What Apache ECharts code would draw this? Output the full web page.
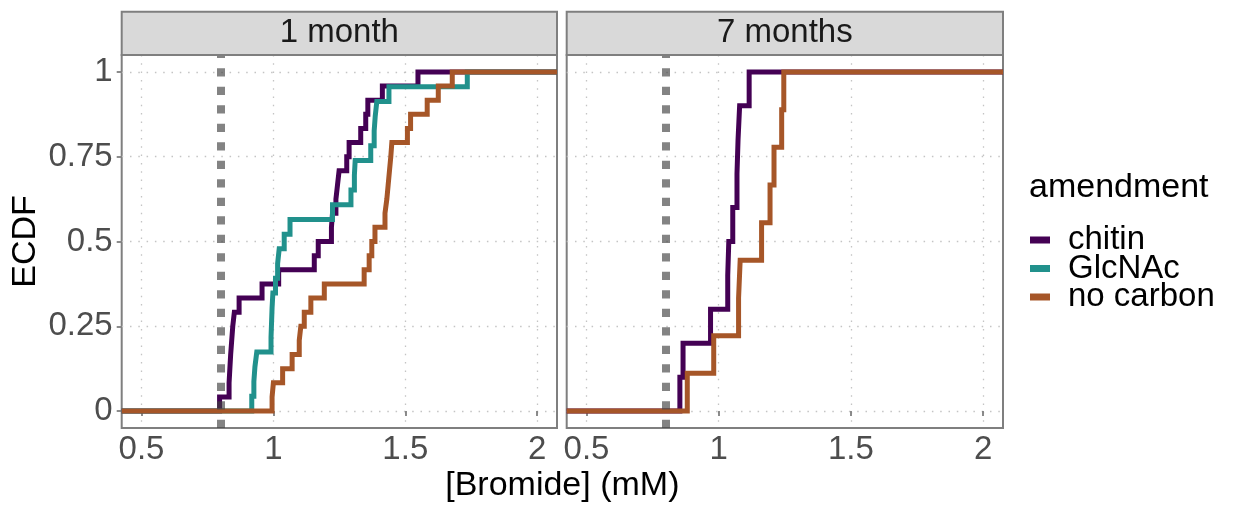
<!DOCTYPE html>
<html>
<head>
<meta charset="utf-8">
<script src="https://cdn.jsdelivr.net/npm/echarts@6/dist/echarts.min.js"></script>
<style>
  html, body { margin: 0; padding: 0; background: #ffffff; }
  #chart { width: 1233px; height: 506px; }
</style>
</head>
<body>
<div id="chart"></div>
<script>
// Sorted bromide concentrations (mM), one value per sample
const chitin1Month = [0.796, 0.832, 0.835, 0.838, 0.842, 0.846, 0.852, 0.870, 0.957, 1.020,
  1.155, 1.170, 1.220, 1.224, 1.237, 1.243, 1.249, 1.278, 1.287, 1.331, 1.350, 1.358, 1.413, 1.548];
const glcnac1Month = [0.918, 0.926, 0.930, 0.937, 0.991, 0.993, 0.995, 0.998, 1.008, 1.016,
  1.022, 1.041, 1.063, 1.224, 1.294, 1.307, 1.310, 1.369, 1.382, 1.386, 1.392, 1.438, 1.735];
const noCarbon1Month = [0.995, 1.000, 1.035, 1.071, 1.098, 1.104, 1.117, 1.142, 1.193, 1.344,
  1.363, 1.373, 1.385, 1.423, 1.430, 1.435, 1.440, 1.445, 1.449, 1.508, 1.520, 1.583, 1.625, 1.678];
const chitin7Months = [0.853, 0.865, 0.969, 1.034, 1.038, 1.053, 1.069, 1.073, 1.079, 1.115];
const noCarbon7Months = [0.881, 0.981, 1.075, 1.081, 1.162, 1.194, 1.209, 1.238, 1.246];

const amendments = ['chitin', 'GlcNAc', 'no carbon'];
const panelTitles = ['1 month', '7 months'];
const xTicks = [0.5, 1, 1.5, 2];
const yTicks = [0, 0.25, 0.5, 0.75, 1];
const referenceBromide = 0.8;
const xLimits = [0.425, 2.075];
const yLimits = [-0.05, 1.05];

const colors = { 'chitin': '#440154', 'GlcNAc': '#21918C', 'no carbon': '#A65628' };
const FONT = '"Liberation Sans", Arial, Helvetica, sans-serif';

// layout of the two facet panels (px)
const panels = [{ left: 121.7, right: 557 }, { left: 566.7, right: 1003 }];
const panelTop = 55, panelBottom = 428, stripTop = 11.7;
const frameColor = '#7F7F7F';

// empirical CDF as step points, padded to the panel edges
function ecdf(values) {
  const n = values.length;
  const pts = [[xLimits[0], 0]];
  values.forEach((v, i) => pts.push([v, (i + 1) / n]));
  pts.push([xLimits[1], 1]);
  return pts;
}

function stepSeries(name, values, idx) {
  return {
    type: 'line', name: name, xAxisIndex: idx, yAxisIndex: idx,
    data: ecdf(values), step: 'end', symbol: 'none', showSymbol: false,
    lineStyle: { width: 5, color: colors[name], cap: 'butt', join: 'miter' },
    itemStyle: { color: colors[name] },
    emphasis: { disabled: true }, silent: true, animation: false, clip: true
  };
}

// dotted vertical reference at 0.8 mM, drawn over the curves
function referenceLine(idx) {
  return {
    type: 'line', name: 'reference', xAxisIndex: idx, yAxisIndex: idx, data: [],
    silent: true, animation: false, z: 5,
    markLine: {
      silent: true, animation: false, symbol: ['none', 'none'],
      label: { show: false },
      lineStyle: { color: 'rgba(64,64,64,0.65)', width: 8, type: [8.3, 10.2], cap: 'butt' },
      emphasis: { disabled: true },
      data: [{ xAxis: referenceBromide }]
    }
  };
}

const grids = panels.map(p => ({
  left: p.left, top: panelTop, width: p.right - p.left, height: panelBottom - panelTop,
  show: true, backgroundColor: '#ffffff', borderColor: frameColor, borderWidth: 2
}));

const splitStyle = { show: true, lineStyle: { color: '#C4C4C4', width: 1.3, type: [1.5, 6.8] } };

const xAxes = panels.map((p, i) => ({
  type: 'value', gridIndex: i, min: xLimits[0], max: xLimits[1],
  axisLine: { show: false },
  axisTick: { show: true, length: 5, customValues: xTicks, lineStyle: { color: frameColor, width: 1.8 } },
  axisLabel: { show: true, customValues: xTicks, margin: 5, fontSize: 33, fontFamily: FONT, color: '#4D4D4D' },
  splitLine: splitStyle
}));

const yAxes = panels.map((p, i) => ({
  type: 'value', gridIndex: i, min: yLimits[0], max: yLimits[1],
  axisLine: { show: false },
  axisTick: { show: i === 0, length: 5, customValues: yTicks, lineStyle: { color: frameColor, width: 1.8 } },
  axisLabel: { show: i === 0, customValues: yTicks, margin: 9, fontSize: 33, fontFamily: FONT, color: '#4D4D4D' },
  splitLine: splitStyle
}));

const graphics = [];
panels.forEach((p, i) => {
  graphics.push({
    type: 'rect', z: 10, silent: true,
    shape: { x: p.left, y: stripTop, width: p.right - p.left, height: panelTop - stripTop },
    style: { fill: '#D9D9D9', stroke: frameColor, lineWidth: 2 }
  });
  graphics.push({
    type: 'text', z: 11, silent: true,
    x: (p.left + p.right) / 2, y: (stripTop + panelTop) / 2,
    style: { text: panelTitles[i], fill: '#1A1A1A', fontSize: 33, fontFamily: FONT,
      align: 'center', verticalAlign: 'middle', textAlign: 'center', textVerticalAlign: 'middle' }
  });
});
graphics.push({
  type: 'text', silent: true, x: (panels[0].left + panels[1].right) / 2, y: 486,
  style: { text: '[Bromide] (mM)', fill: '#000000', fontSize: 34, fontFamily: FONT,
    align: 'center', verticalAlign: 'middle', textAlign: 'center', textVerticalAlign: 'middle' }
});
graphics.push({
  type: 'text', silent: true, x: 26, y: (panelTop + panelBottom) / 2, rotation: Math.PI / 2,
  style: { text: 'ECDF', fill: '#000000', fontSize: 34, fontFamily: FONT,
    align: 'center', verticalAlign: 'middle', textAlign: 'center', textVerticalAlign: 'middle' }
});
graphics.push({
  type: 'text', silent: true, x: 1029, y: 188,
  style: { text: 'amendment', fill: '#000000', fontSize: 34, fontFamily: FONT,
    align: 'left', verticalAlign: 'middle', textAlign: 'left', textVerticalAlign: 'middle' }
});

const option = {
  animation: false,
  backgroundColor: '#ffffff',
  grid: grids,
  xAxis: xAxes,
  yAxis: yAxes,
  legend: {
    orient: 'vertical', left: 1030, top: 223.5, padding: 0, itemGap: -4.5,
    itemWidth: 20, itemHeight: 7, icon: 'rect', selectedMode: false,
    data: amendments,
    textStyle: { fontSize: 33, fontFamily: FONT, color: '#000000', padding: [0, 0, 0, 13] }
  },
  graphic: graphics,
  series: [
    stepSeries('chitin', chitin1Month, 0),
    stepSeries('GlcNAc', glcnac1Month, 0),
    stepSeries('no carbon', noCarbon1Month, 0),
    referenceLine(0),
    stepSeries('chitin', chitin7Months, 1),
    stepSeries('no carbon', noCarbon7Months, 1),
    referenceLine(1)
  ]
};

const chart = echarts.init(document.getElementById('chart'), null, { renderer: 'canvas' });
chart.setOption(option);
</script>
</body>
</html>
